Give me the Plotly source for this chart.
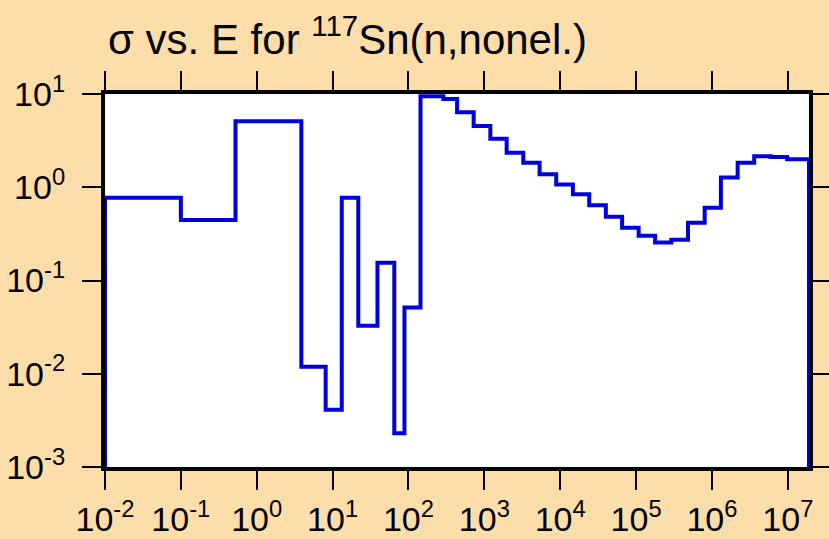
import math
import plotly.graph_objects as go

# bin edges (eV) and cross sections (b)
edges = [0.01, 0.1, 0.525, 3.87, 8.1, 13.2, 21.8, 39, 65, 88.5,
         144, 288, 437, 723, 1199, 1967, 3260, 5345, 8850, 14690,
         24100, 39900, 65400, 108000, 178000, 291000, 483000, 801000, 1.31e6, 2.18e6,
         3.6e6, 5.9e6, 9.8e6, 1.9e7]
sigma = [0.77, 0.445, 5.1, 0.0119, 0.0041, 0.77, 0.0328, 0.155, 0.0023, 0.0512,
         9.45, 8.84, 6.37, 4.54, 3.32, 2.35, 1.83, 1.38, 1.07, 0.84,
         0.64, 0.483, 0.368, 0.302, 0.256, 0.274, 0.417, 0.604, 1.27, 1.83,
         2.15, 2.11, 2.0]
floor = 1e-3

x_ticks = [10.0 ** p for p in range(-2, 8)]
x_labels = [f"10<sup>{p}</sup>" for p in range(-2, 8)]
y_ticks = [10.0 ** p for p in range(-3, 2)]
y_labels = [f"10<sup>{p}</sup>" for p in range(-3, 2)]

BG = "#FDDDA9"
FONT = "Liberation Sans, Arial, sans-serif"

# outline of the histogram, closed down to the floor at both ends
xs = [edges[0]] + edges
ys = [floor] + sigma + [floor]

fig = go.Figure()
fig.add_trace(go.Scatter(
    x=xs, y=ys, mode="lines", line_shape="hv",
    line=dict(color="#0000DD", width=4),
    showlegend=False, hoverinfo="skip",
))

axis_style = dict(
    type="log", showgrid=False, zeroline=False, automargin=False,
    showline=True, linecolor="black", linewidth=4, mirror="ticks",
    ticks="outside", ticklen=19, tickwidth=2, tickcolor="black",
    tickfont=dict(family=FONT, size=34, color="black"),
)

fig.update_xaxes(axis_style, range=[-2, math.log10(edges[-1])],
                 tickvals=x_ticks, ticktext=x_labels)
fig.update_yaxes(axis_style, range=[-3, 1],
                 tickvals=y_ticks, ticktext=y_labels, ticklabelstandoff=10)

fig.update_layout(
    width=829, height=539,
    margin=dict(l=105, r=20, t=94, b=72),
    paper_bgcolor=BG, plot_bgcolor="white",
    title=dict(text="σ vs. E for <sup>117</sup>Sn(n,nonel.)",
               x=108 / 829, xanchor="left", y=1 - 39 / 539, yanchor="middle",
               font=dict(family=FONT, size=42, color="black")),
)

fig.write_html("out.html", config={"displayModeBar": False},
               post_script="document.body.style.margin='0';")
